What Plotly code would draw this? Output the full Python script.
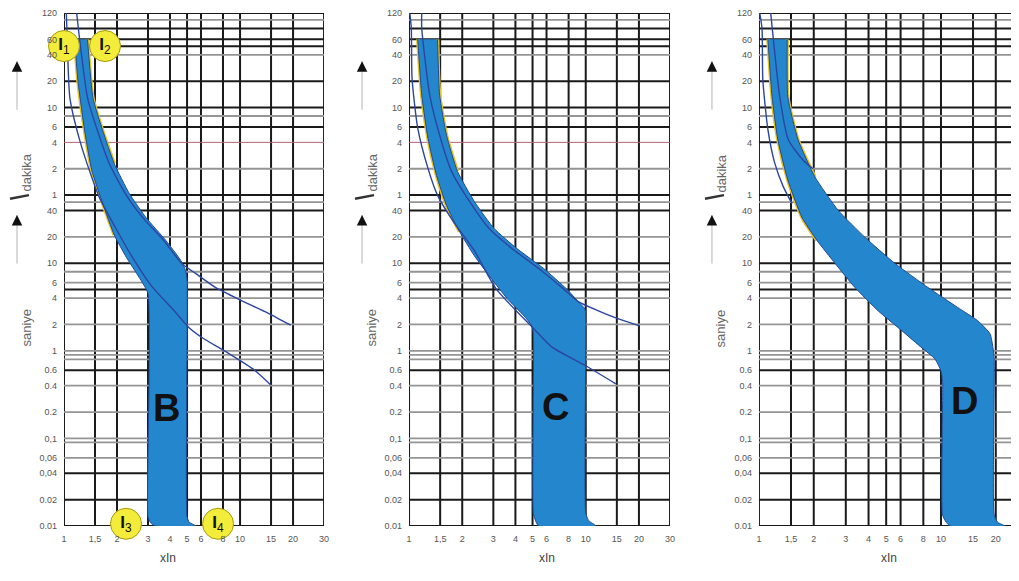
"""Tripping characteristics of MCBs (B, C, D curves) on log-log paper."""

import numpy as np
import plotly.graph_objects as go

# Time axis is in seconds; the upper half of the paper is labelled in minutes.
Y_TICK_VALS = [7200, 3600, 2400, 1200, 600, 360, 240, 120, 60,
               40, 20, 10, 6, 4, 2, 1, 0.6, 0.4, 0.2, 0.1, 0.06, 0.04, 0.02, 0.01]
Y_TICK_TEXT = ["120", "60", "40", "20", "10", "6", "4", "2", "1",
               "40", "20", "10", "6", "4", "2", "1", "0.6", "0.4", "0.2", "0,1",
               "0,06", "0,04", "0.02", "0.01"]
X_TICK_VALS = [1, 1.5, 2, 3, 4, 5, 6, 8, 10, 15, 20, 30]
X_TICK_TEXT = ["1", "1,5", "2", "3", "4", "5", "6", "8", "10", "15", "20", "30"]

GRID_DARK_T = [7200, 4800, 3600, 3000, 1200, 600, 360, 60, 40, 10, 5, 0.6, 0.04, 0.02, 0.01]
GRID_LIGHT_T = [6000, 2400, 480, 120, 50, 20, 8, 6, 4, 2, 1, 0.9, 0.8, 0.4, 0.2, 0.1, 0.09, 0.06]
GRID_PINK_T = 240

# ---- B curve ----
B_LEFT_X = [1.15, 1.20, 1.31, 1.44, 1.66, 1.93, 2.26, 2.67, 3.0, 3.0, 3.1, 3.3]
B_LEFT_T = [3600, 1210, 326, 114, 48, 21, 11.7, 6.9, 4.5, 0.0127, 0.0109, 0.01]
B_RIGHT_X = [1.36, 1.46, 1.66, 1.93, 2.35, 2.93, 3.79, 4.6, 4.9, 5.0, 5.0, 5.15, 5.6]
B_RIGHT_T = [3600, 774, 326, 137, 62.5, 33, 18.2, 10.8, 8.3, 6.5, 0.0127, 0.011, 0.01]
B_LOW_X = [1.03, 1.04, 1.08, 1.23, 1.44, 1.59, 1.93, 2.41, 3.12, 4.2, 5.1, 6.04, 8.56, 12.1, 14.9]
B_LOW_T = [7200, 4490, 774, 251, 95, 56, 27, 12.3, 5.6, 2.9, 1.86, 1.43, 0.94, 0.60, 0.41]
B_UP_X = [1.18, 1.23, 1.36, 1.55, 1.81, 2.23, 2.81, 3.69, 4.66, 5.59, 7.24, 10.1, 14.4, 19.4]
B_UP_T = [7200, 3450, 774, 326, 137, 62.5, 33, 18.2, 9.95, 7.66, 5.3, 3.78, 2.7, 1.96]

# ---- C curve ----
C_LEFT_X = [1.12, 1.18, 1.28, 1.43, 1.63, 1.93, 2.34, 2.92, 3.59, 4.46, 4.95, 5.05, 5.05, 5.2, 5.4]
C_LEFT_T = [3600, 830, 267, 101, 45.7, 23, 12.2, 6.7, 3.95, 2.52, 1.94, 1.6, 0.014, 0.0115, 0.01]
C_RIGHT_X = [1.45, 1.49, 1.63, 1.88, 2.34, 3.03, 4.08, 5.78, 7.78, 9.07, 9.9, 10.0, 10.0, 10.4, 11.4]
C_RIGHT_T = [3600, 830, 289, 112, 50.8, 24.9, 14.7, 8.7, 5.1, 3.65, 3.0, 2.6, 0.014, 0.0115, 0.01]
C_LOW_X = [1.01, 1.03, 1.04, 1.12, 1.28, 1.45, 1.81, 2.34, 3.11, 5.08, 6.41, 9.94, 14.8]
C_LOW_T = [7200, 4843, 1297, 348, 121, 59.6, 28.5, 14.0, 5.1, 1.79, 1.11, 0.68, 0.42]
C_UP_X = [1.18, 1.18, 1.31, 1.49, 1.74, 2.20, 2.84, 3.83, 5.42, 7.48, 9.07, 11.7, 15.2, 20.0]
C_UP_T = [7200, 4843, 830, 289, 112, 50.8, 24.9, 14.7, 8.7, 5.1, 3.65, 2.88, 2.33, 1.94]

# ---- D curve ----
D_LEFT_X = [1.12, 1.18, 1.27, 1.44, 1.72, 2.08, 2.62, 3.37, 4.51, 6.11, 7.86, 9.26, 10.0, 10.2, 10.2, 10.7, 11.2]
D_LEFT_T = [3600, 802, 257, 89.4, 33.6, 18.3, 9.96, 5.28, 2.87, 1.69, 1.08, 0.81, 0.59, 0.45, 0.0134, 0.011, 0.01]
D_RIGHT_X = [1.43, 1.44, 1.64, 2.03, 2.72, 3.82, 5.58, 8.49, 12.4, 15.9, 18.6, 19.3, 19.6, 19.6, 20.5, 22.4]
D_RIGHT_T = [3600, 802, 257, 96.8, 40.4, 19.8, 9.96, 5.28, 3.11, 2.21, 1.57, 1.08, 0.8, 0.0134, 0.011, 0.01]
D_LOW_X = [1.01, 1.04, 1.05, 1.12, 1.22, 1.36, 1.52]
D_LOW_T = [7200, 4710, 1256, 335, 140, 75, 48]
D_UP_X = [1.16, 1.2, 1.3, 1.45, 1.75, 1.98]
D_UP_T = [7200, 3600, 802, 257, 150, 120]

# label bubbles I1..I4 (only on the B sheet) and big curve letters
I_LABEL_X = [1.0, 1.71, 2.25, 7.5]
I_LABEL_T = [3020, 3020, 0.0106, 0.0106]
I_LABEL_TEXT = ["<b>I</b><sub>1</sub>", "<b>I</b><sub>2</sub>", "<b>I</b><sub>3</sub>", "<b>I</b><sub>4</sub>"]
LETTER_X = [3.84, 6.78, 13.5]
LETTER_T = [0.22, 0.23, 0.27]
LETTERS = ["B", "C", "D"]

BAND = "#2487cd"
EDGE = "#1f4a96"
THIN = "#2c45a0"
YELLOW = "#e9c31c"
FONT = "Liberation Sans, Arial, sans-serif"

PANELS = [
    dict(left=(B_LEFT_X, B_LEFT_T), right=(B_RIGHT_X, B_RIGHT_T), low=(B_LOW_X, B_LOW_T),
         up=(B_UP_X, B_UP_T), yl=6, yr=4, domain=[0.0, 0.2723], xmax=np.log10(30), pink=True, title_x=0.40),
    dict(left=(C_LEFT_X, C_LEFT_T), right=(C_RIGHT_X, C_RIGHT_T), low=(C_LOW_X, C_LOW_T),
         up=(C_UP_X, C_UP_T), yl=6, yr=4, domain=[0.3613, 0.6346], xmax=np.log10(30), pink=True, title_x=0.53),
    dict(left=(D_LEFT_X, D_LEFT_T), right=(D_RIGHT_X, D_RIGHT_T), low=(D_LOW_X, D_LOW_T),
         up=(D_UP_X, D_UP_T), yl=6, yr=4, domain=[0.7277, 1.0], xmax=1.4286, pink=False, title_x=0.50),
]

fig = go.Figure()
shapes = []
annotations = []
tick_font = dict(family=FONT, size=9, color="#555555")

for n, panel in enumerate(PANELS, start=1):
    xa = "x" if n == 1 else f"x{n}"
    ya = "y" if n == 1 else f"y{n}"
    lx, lt = panel["left"]
    rx, rt = panel["right"]

    # yellow rims on the upper part of the band
    for ex, et, k in ((lx, lt, panel["yl"]), (rx, rt, panel["yr"])):
        fig.add_trace(go.Scatter(x=ex[:k], y=et[:k], mode="lines", xaxis=xa, yaxis=ya,
                                 line=dict(color=YELLOW, width=3.5, shape="spline", smoothing=0.6),
                                 hoverinfo="skip", showlegend=False))

    fig.add_trace(go.Scatter(
        x=list(lx) + list(rx)[::-1], y=list(lt) + list(rt)[::-1],
        mode="lines", fill="toself", fillcolor=BAND, xaxis=xa, yaxis=ya,
        line=dict(color=EDGE, width=1, shape="spline", smoothing=0.5),
        hoverinfo="skip", showlegend=False))

    for key in ("low", "up"):
        cx, ct = panel[key]
        fig.add_trace(go.Scatter(x=cx, y=ct, mode="lines", xaxis=xa, yaxis=ya,
                                 line=dict(color=THIN, width=1.4, shape="spline", smoothing=0.6),
                                 hoverinfo="skip", showlegend=False))

    # grid paper
    for v in X_TICK_VALS:
        shapes.append(dict(type="line", layer="below", xref=xa, yref=f"{ya} domain", x0=v, x1=v, y0=0, y1=1,
                           line=dict(color="#1a1a1a", width=2)))
    for v in GRID_LIGHT_T:
        shapes.append(dict(type="line", layer="below", xref=f"{xa} domain", yref=ya, x0=0, x1=1, y0=v, y1=v,
                           line=dict(color="#959595", width=1.8)))
    for v in GRID_DARK_T:
        shapes.append(dict(type="line", layer="below", xref=f"{xa} domain", yref=ya, x0=0, x1=1, y0=v, y1=v,
                           line=dict(color="#1a1a1a", width=2)))
    shapes.append(dict(type="line", layer="below", xref=f"{xa} domain", yref=ya, x0=0, x1=1,
                       y0=GRID_PINK_T, y1=GRID_PINK_T,
                       line=dict(color="#b9606f" if panel["pink"] else "#1a1a1a",
                                 width=1 if panel["pink"] else 2)))
    # the short divider between "saniye" and "dakika"
    shapes.append(dict(type="line", xref=f"{xa} domain", yref="paper", xsizemode="pixel", xanchor=0,
                       x0=-54, x1=-35, y0=0.638, y1=0.645, line=dict(color="#333333", width=2.5)))

    fig.update_layout({
        ("xaxis" if n == 1 else f"xaxis{n}"): dict(
            type="log", domain=panel["domain"], range=[0, panel["xmax"]], anchor=ya,
            tickvals=X_TICK_VALS, ticktext=X_TICK_TEXT, tickfont=tick_font, automargin=False,
            showgrid=False, zeroline=False, showline=False, ticklabelstandoff=6),
        ("yaxis" if n == 1 else f"yaxis{n}"): dict(
            type="log", domain=[0, 1], range=[-2, np.log10(7200)], anchor=xa,
            tickvals=Y_TICK_VALS, ticktext=Y_TICK_TEXT, tickfont=tick_font, automargin=False,
            showgrid=False, zeroline=False, showline=False, ticklabelstandoff=6),
    })

    # curve letter
    annotations.append(dict(xref=xa, yref=ya, x=np.log10(LETTER_X[n - 1]), y=np.log10(LETTER_T[n - 1]),
                            text=f"<b>{LETTERS[n - 1]}</b>", showarrow=False,
                            font=dict(family=FONT, size=38, color="#111111")))
    # x axis title
    annotations.append(dict(xref=f"{xa} domain", yref="paper", x=panel["title_x"], y=-0.08,
                            text="xIn", showarrow=False, font=dict(family=FONT, size=12, color="#444444")))
    # side labels with arrows
    side = dict(xref=f"{xa} domain", yref="paper", x=0, xshift=-47)
    annotations.append(dict(side, y=0.729, text="dakika", textangle=-90, showarrow=False,
                            font=dict(family=FONT, size=13, color="#666666")))
    annotations.append(dict(side, y=0.386, text="saniye", textangle=-90, showarrow=False,
                            font=dict(family=FONT, size=13, color="#666666")))
    for head_y in (0.906, 0.606):
        annotations.append(dict(side, y=head_y, text="", showarrow=True, ax=0, ay=50,
                                arrowhead=0, arrowwidth=1, arrowcolor="#b5b5b5"))
        annotations.append(dict(side, y=head_y, text="", showarrow=True, ax=0, ay=9,
                                arrowhead=2, arrowsize=1.4, arrowwidth=1.5, arrowcolor="#111111"))

# I1..I4 bubbles on the B sheet
fig.add_trace(go.Scatter(
    x=I_LABEL_X, y=I_LABEL_T, mode="markers+text", text=I_LABEL_TEXT, textposition="middle center",
    marker=dict(symbol="circle", size=31, color="#f3ec3a", line=dict(color="#a89a10", width=1)),
    textfont=dict(family=FONT, size=17, color="#111111"), cliponaxis=False,
    xaxis="x", yaxis="y", hoverinfo="skip", showlegend=False))

# the page body adds an 8 px margin; keep the whole page inside the window
fig.update_layout(
    width=1011, height=565,
    margin=dict(l=56, r=0, t=5, b=47, autoexpand=False),
    paper_bgcolor="white", plot_bgcolor="white",
    shapes=shapes, annotations=annotations,
    showlegend=False,
)

fig.write_html("out.html")
